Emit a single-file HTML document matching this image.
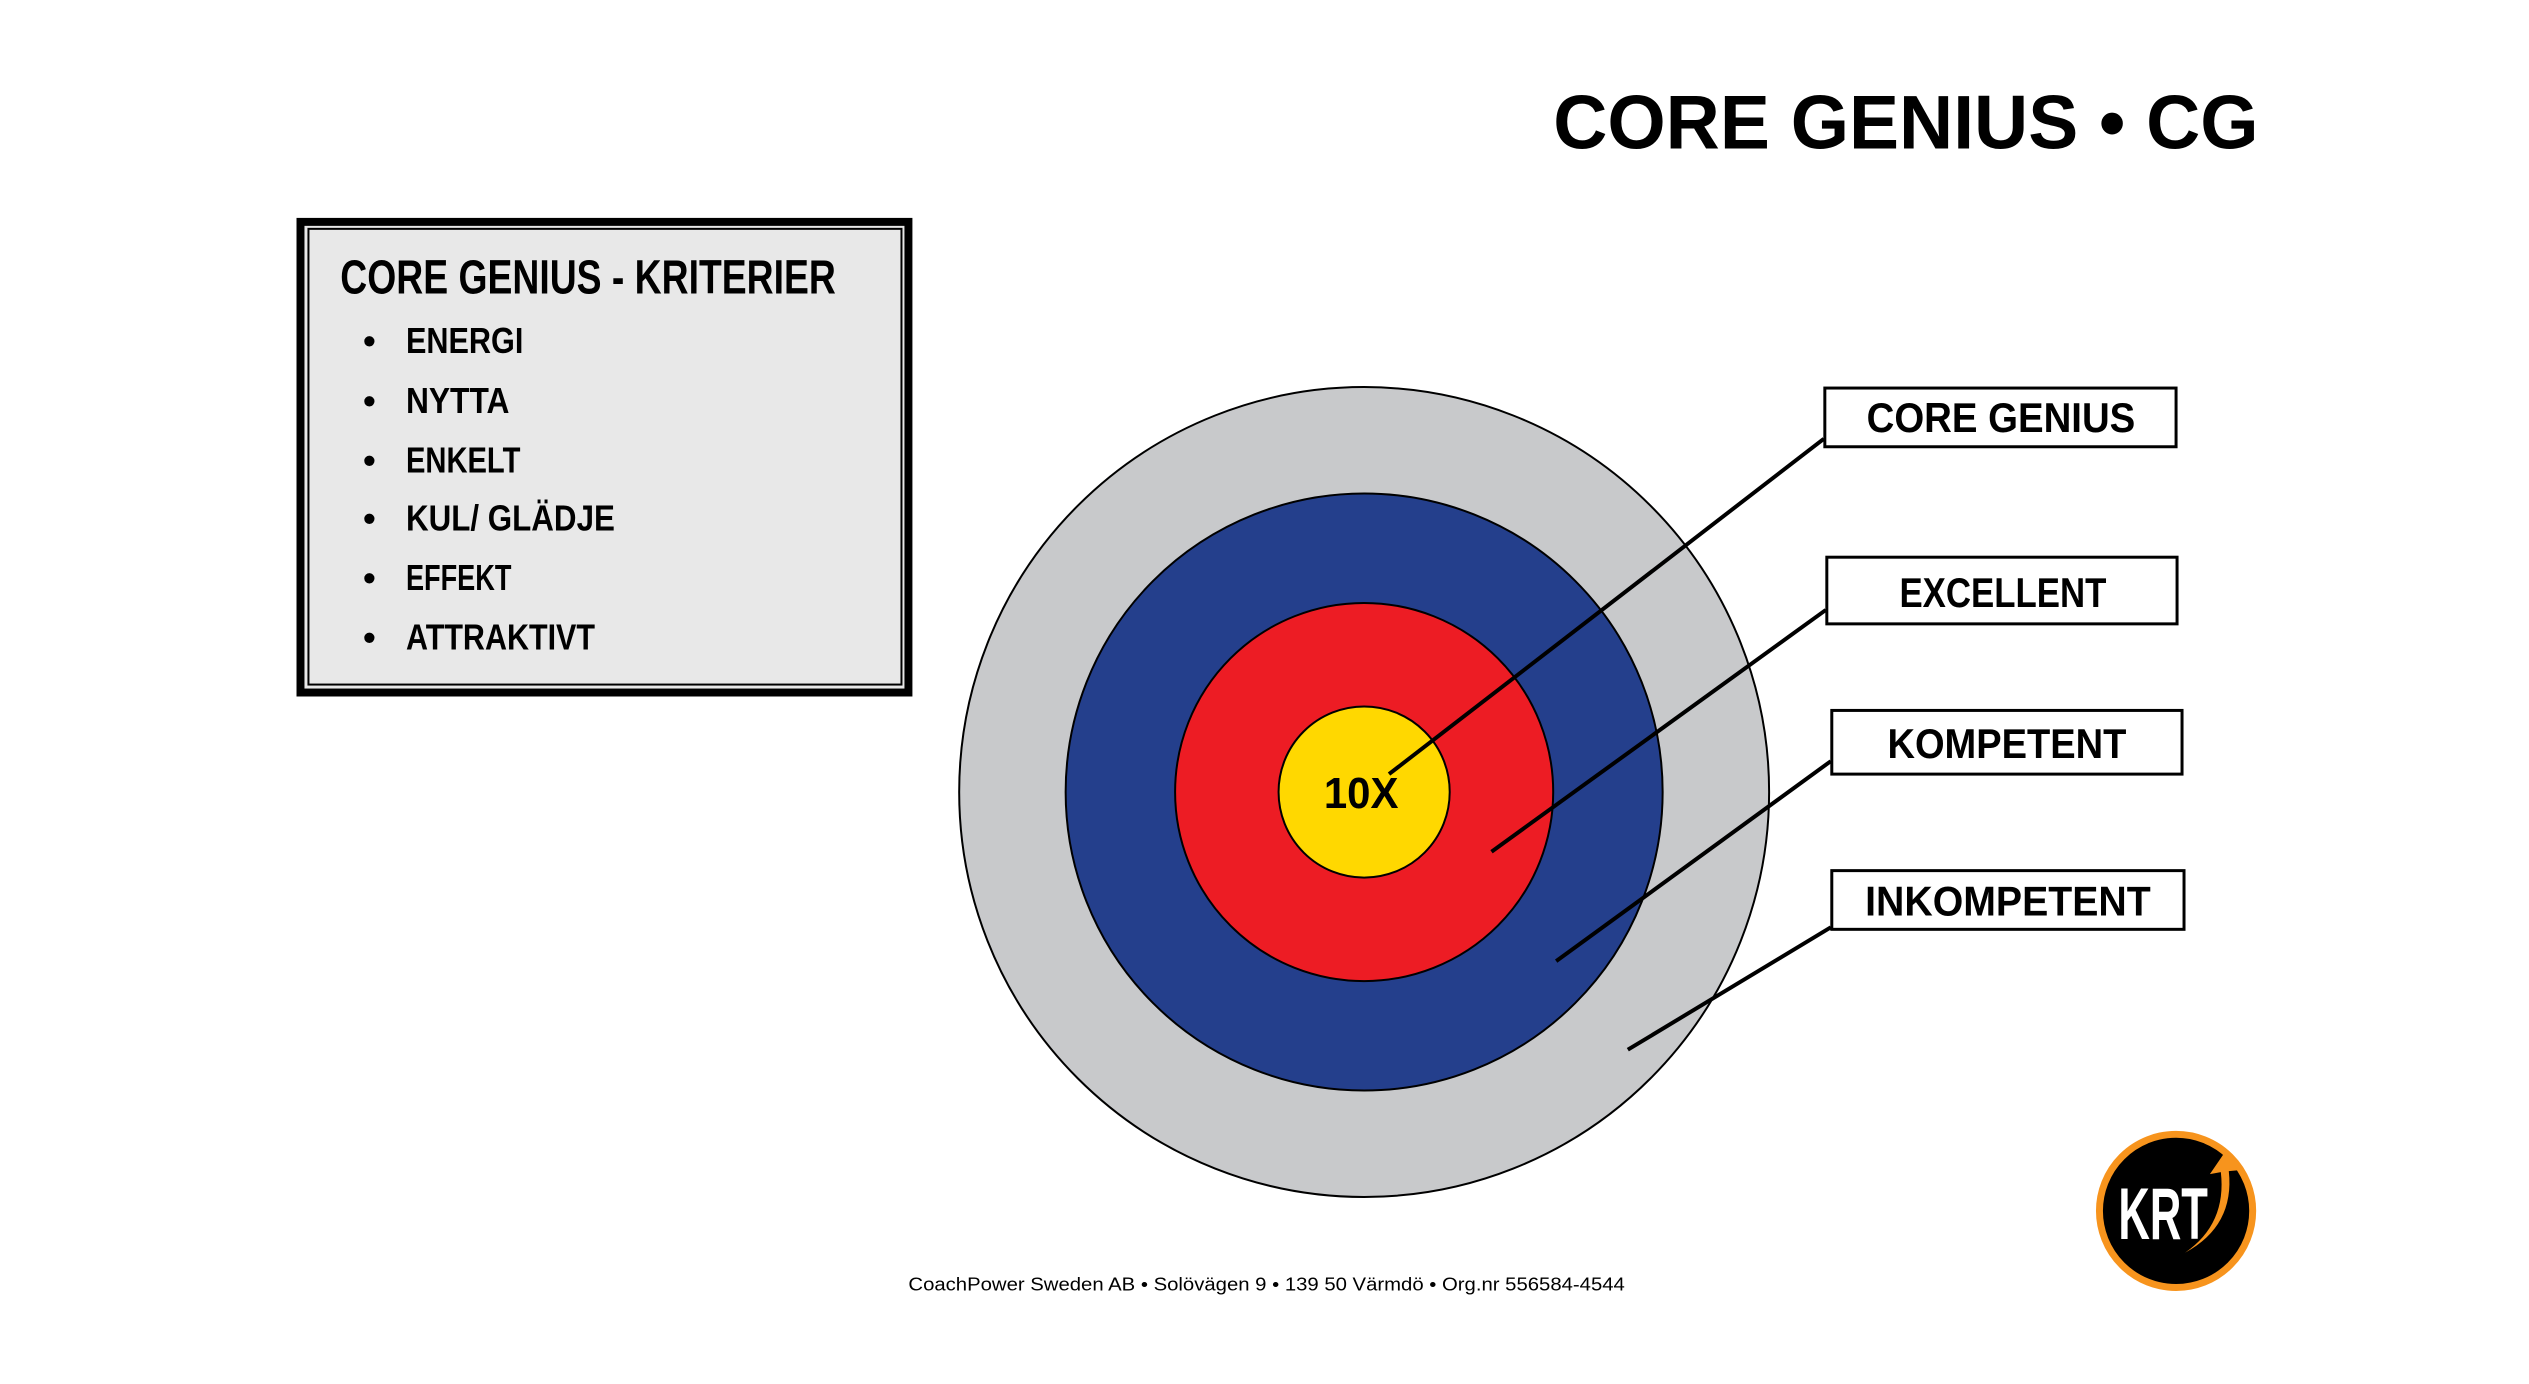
<!DOCTYPE html>
<html><head><meta charset="utf-8"><style>
html,body{margin:0;padding:0;background:#fff;}
svg{display:block;}
text{font-family:"Liberation Sans",sans-serif;font-weight:bold;fill:#000;}
</style></head><body>
<svg width="2529" height="1384" viewBox="0 0 2529 1384" xmlns="http://www.w3.org/2000/svg">
<rect width="2529" height="1384" fill="#fff"/>
<g transform="scale(0.995)">
<text x="1561" y="149" font-size="76" textLength="709" lengthAdjust="spacingAndGlyphs">CORE GENIUS • CG</text>

<rect x="302" y="223" width="611" height="473" fill="#e8e8e8" stroke="#000" stroke-width="8"/>
<rect x="310" y="230" width="596" height="458" fill="none" stroke="#000" stroke-width="2"/>
<text x="342" y="295" font-size="48" textLength="498" lengthAdjust="spacingAndGlyphs">CORE GENIUS - KRITERIER</text>
<g font-size="36">
<text x="365" y="355">•</text><text x="408" y="355" textLength="118" lengthAdjust="spacingAndGlyphs">ENERGI</text>
<text x="365" y="415">•</text><text x="408" y="415" textLength="104" lengthAdjust="spacingAndGlyphs">NYTTA</text>
<text x="365" y="475">•</text><text x="408" y="475" textLength="115" lengthAdjust="spacingAndGlyphs">ENKELT</text>
<text x="365" y="533">•</text><text x="408" y="533" textLength="210" lengthAdjust="spacingAndGlyphs">KUL/ GLÄDJE</text>
<text x="365" y="593">•</text><text x="408" y="593" textLength="106" lengthAdjust="spacingAndGlyphs">EFFEKT</text>
<text x="365" y="653">•</text><text x="408" y="653" textLength="190" lengthAdjust="spacingAndGlyphs">ATTRAKTIVT</text>
</g>

<circle cx="1371" cy="796" r="407" fill="#c8c9cb" stroke="#000" stroke-width="2"/>
<circle cx="1371" cy="796" r="300" fill="#243f8c" stroke="#000" stroke-width="2"/>
<circle cx="1371" cy="796" r="190" fill="#ed1c24" stroke="#000" stroke-width="2"/>
<circle cx="1371" cy="796" r="86" fill="#ffd800" stroke="#000" stroke-width="2"/>
<text x="1368" y="812" font-size="44" text-anchor="middle" textLength="75" lengthAdjust="spacingAndGlyphs">10X</text>

<g stroke="#000" stroke-width="4">
<line x1="1833" y1="441" x2="1396" y2="778"/>
<line x1="1835" y1="613" x2="1499" y2="856"/>
<line x1="1840" y1="765" x2="1564" y2="966"/>
<line x1="1840" y1="932" x2="1636" y2="1055"/>
</g>
<g fill="#fff" stroke="#000" stroke-width="3">
<rect x="1834" y="390" width="353" height="59"/>
<rect x="1836" y="560" width="352" height="67"/>
<rect x="1841" y="714" width="352" height="64"/>
<rect x="1841" y="875" width="354" height="59"/>
</g>
<g font-size="42" text-anchor="middle">
<text x="2011" y="434" textLength="270" lengthAdjust="spacingAndGlyphs">CORE GENIUS</text>
<text x="2013" y="610" textLength="208" lengthAdjust="spacingAndGlyphs">EXCELLENT</text>
<text x="2017" y="762" textLength="240" lengthAdjust="spacingAndGlyphs">KOMPETENT</text>
<text x="2018" y="920" textLength="287" lengthAdjust="spacingAndGlyphs">INKOMPETENT</text>
</g>

<text x="1273" y="1297" font-size="19" text-anchor="middle" textLength="720" lengthAdjust="spacingAndGlyphs" style="font-weight:normal">CoachPower Sweden AB • Solövägen 9 • 139 50 Värmdö • Org.nr 556584-4544</text>

<g transform="translate(10,0)">
<circle cx="2177" cy="1217" r="77" fill="#000" stroke="#f7941d" stroke-width="7"/>
<text x="2164" y="1245" font-size="74" text-anchor="middle" style="fill:#fff" textLength="90" lengthAdjust="spacingAndGlyphs">KRT</text>
<path d="M2186 1259 Q2228 1230 2222 1178 L2211 1180 L2226 1158 L2241 1176 L2230 1177 Q2236 1232 2186 1259 Z" fill="#f7941d"/>
</g>
</g>
</svg>
</body></html>
